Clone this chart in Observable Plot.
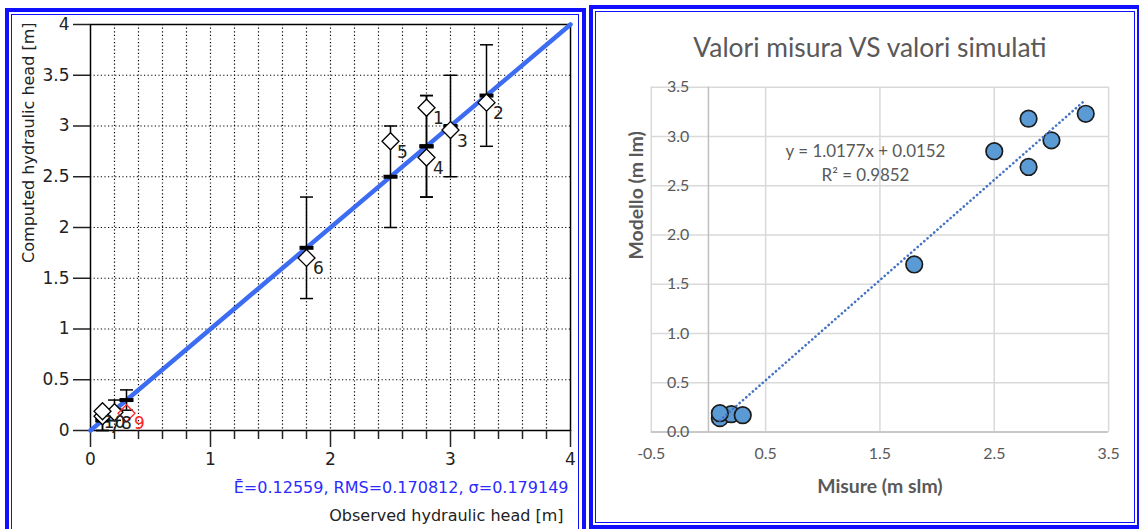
<!DOCTYPE html>
<html>
<head>
<meta charset="utf-8">
<script src="https://cdn.jsdelivr.net/npm/d3@7"></script>
<script src="https://cdn.jsdelivr.net/npm/@observablehq/plot@0.6"></script>
<style>
  html, body { margin: 0; padding: 0; background: #fff; }
  body { position: relative; width: 1139px; height: 529px; overflow: hidden; }
  .box { position: absolute; box-sizing: border-box; border-style: solid; border-color: #1010ff; }
  .chart { position: absolute; top: 0; }
  .chart svg { display: block; }
</style>
</head>
<body>
<!-- double blue frames around the two panels -->
<div class="box" style="left:5px; top:8px; width:581px; height:560px; border-width:4px;"></div>
<div class="box" style="left:11px; top:14px; width:568px; height:560px; border-width:1px;"></div>
<div class="box" style="left:589px; top:5px; width:552px; height:524px; border-width:4px;"></div>
<div class="box" style="left:595px; top:11px; width:540px; height:512px; border-width:1px;"></div>

<div id="left" class="chart" style="left:0px;"></div>
<div id="right" class="chart" style="left:589px;"></div>

<script>
// Observation wells: observed vs computed hydraulic head [m]
const wellIds    = [1, 2, 3, 4, 5, 6, 7, 8, 9, 10];
const observed   = [2.8, 3.3, 3.0, 2.8, 2.5, 1.8, 0.1, 0.2, 0.3, 0.1];
const computed   = [3.18, 3.23, 2.96, 2.69, 2.85, 1.70, 0.14, 0.18, 0.17, 0.19];
const tolerance  = [0.5, 0.5, 0.5, 0.5, 0.5, 0.5, 0.1, 0.1, 0.1, 0.1];
const selectedWell = 9;

// Calibration statistics printed under the scatter
const statsLabel = "Ē=0.12559, RMS=0.170812, σ=0.179149";

// Left panel ticks and grid
const xTicksLeft  = [0, 1, 2, 3, 4];
const xMinorLeft  = [0.2, 0.4, 0.6, 0.8, 1.2, 1.4, 1.6, 1.8, 2.2, 2.4, 2.6, 2.8, 3.2, 3.4, 3.6, 3.8];
const xGridLeft   = [0.2, 0.4, 0.6, 0.8, 1, 1.2, 1.4, 1.6, 1.8, 2, 2.2, 2.4, 2.6, 2.8, 3, 3.2, 3.4, 3.6, 3.8];
const yTicksLeft  = [0, 0.5, 1, 1.5, 2, 2.5, 3, 3.5, 4];
const perfectFit  = [0, 4];

// Right panel: linear trend fitted in the spreadsheet
const trendSlope = 1.0177;
const trendIntercept = 0.0152;
const trendR2 = 0.9852;
const xTicksRight = [-0.5, 0.5, 1.5, 2.5, 3.5];
const yTicksRight = [0, 0.5, 1, 1.5, 2, 2.5, 3, 3.5];

const chartTitle = "Valori misura VS valori simulati";
const xTitleRight = "Misure (m slm)";
const yTitleRight = "Modello (m lm)";
const xTitleLeft = "Observed hydraulic head [m]";
const yTitleLeft = "Computed hydraulic head [m]";

const rows = wellIds.map((id, i) => ({
  id, obs: observed[i], sim: computed[i], tol: tolerance[i]
}));
const plainRows = rows.filter(d => d.id !== selectedWell);
const selRows = rows.filter(d => d.id === selectedWell);

// fixed-size glyphs for the error bars and markers
const capGlyph = { draw(ctx) { ctx.moveTo(-6.5, 0); ctx.lineTo(6.5, 0); } };
const obsGlyph = { draw(ctx) { ctx.rect(-7, -2, 14, 4); } };
const diamondGlyph = { draw(ctx) {
  ctx.moveTo(0, -8.5); ctx.lineTo(8.5, 0); ctx.lineTo(0, 8.5); ctx.lineTo(-8.5, 0); ctx.closePath();
} };

const leftFont = "'DejaVu Sans', Verdana, sans-serif";
const ink = "#222";

const left = Plot.plot({
  width: 586,
  height: 529,
  marginLeft: 90,
  marginRight: 16,
  marginTop: 24,
  marginBottom: 99,
  x: { domain: [0, 4], label: null },
  y: { domain: [0, 4], label: null },
  style: { fontFamily: leftFont, fontSize: "16px", color: ink, background: "transparent", overflow: "visible" },
  marks: [
    Plot.gridX(xGridLeft, { stroke: "#000", strokeOpacity: 1, strokeWidth: 1.2, strokeDasharray: "1.2,2.4" }),
    Plot.gridY(yTicksLeft, { stroke: "#000", strokeOpacity: 1, strokeWidth: 1.2, strokeDasharray: "1.2,2.4" }),
    Plot.frame({ stroke: "#000", strokeWidth: 1.5 }),
    Plot.axisY(yTicksLeft, { tickSize: 17, tickPadding: 4, strokeWidth: 1.5, tickFormat: d => String(d), fontSize: 17, label: null }),
    Plot.axisX(xMinorLeft, { tickSize: 9, strokeWidth: 1.5, tickFormat: () => "", label: null }),
    Plot.axisX(xTicksLeft, { tickSize: 17, tickPadding: 5, strokeWidth: 1.5, tickFormat: d => String(d), fontSize: 17, label: null }),
    // 1:1 line
    Plot.line(perfectFit, { x: d => d, y: d => d, stroke: "#3c6cf2", strokeWidth: 4.5 }),
    // tolerance bars around the observed value
    Plot.ruleX(rows, { x: "obs", y1: d => d.obs - d.tol, y2: d => d.obs + d.tol, stroke: "#000", strokeWidth: 1.5 }),
    Plot.dot(rows, { x: "obs", y: d => d.obs - d.tol, symbol: capGlyph, r: 5, stroke: "#000", strokeWidth: 1.5 }),
    Plot.dot(rows, { x: "obs", y: d => d.obs + d.tol, symbol: capGlyph, r: 5, stroke: "#000", strokeWidth: 1.5 }),
    Plot.dot(rows, { x: "obs", y: "obs", symbol: obsGlyph, r: 5, fill: "#000", stroke: "none" }),
    // computed heads
    Plot.dot(plainRows, { x: "obs", y: "sim", symbol: diamondGlyph, r: 5, fill: "#fff", stroke: "#000", strokeWidth: 1.3 }),
    Plot.dot(selRows, { x: "obs", y: "sim", symbol: diamondGlyph, r: 5, fill: "none", stroke: "#ff2525", strokeWidth: 1.3 }),
    Plot.text(plainRows, { x: "obs", y: "sim", text: d => String(d.id), dx: 12, dy: 11, fontSize: 17, fill: ink }),
    Plot.text(selRows, { x: "obs", y: "sim", text: d => String(d.id), dx: 13, dy: 10, fontSize: 17, fill: "#ff2525" }),
    // statistics and axis titles
    Plot.text([statsLabel], { text: d => d, frameAnchor: "bottom-right", textAnchor: "end", lineAnchor: "middle", dx: -2, dy: 57, fontSize: 16, fill: "#2b2bff" }),
    Plot.text([xTitleLeft], { text: d => d, frameAnchor: "bottom-right", textAnchor: "end", lineAnchor: "middle", dx: -7, dy: 85, fontSize: 16, fill: ink }),
    Plot.text([yTitleLeft], { text: d => d, frameAnchor: "top-left", textAnchor: "end", lineAnchor: "middle", rotate: -90, dx: -62, dy: -2, fontSize: 16, fill: ink })
  ]
});
document.getElementById("left").appendChild(left);

// Right panel: same wells, spreadsheet-style scatter with trend line
const xMin = d3.min(observed), xMax = d3.max(observed);
const trend = [xMin, xMax].map(x => ({ x, y: trendSlope * x + trendIntercept }));
const eqLabel = `y = ${trendSlope}x + ${trendIntercept}`;
const r2Label = `R² = ${trendR2}`;
const gray = "#595959";
const rightFont = "Lato, 'Open Sans', sans-serif";

const right = Plot.plot({
  width: 552,
  height: 529,
  marginLeft: 62,
  marginRight: 31,
  marginTop: 87,
  marginBottom: 96,
  x: { domain: [-0.5, 3.5], label: null },
  y: { domain: [0, 3.5], label: null },
  style: { fontFamily: rightFont, fontSize: "15px", color: gray, background: "transparent", overflow: "visible" },
  marks: [
    Plot.gridX(xTicksRight, { stroke: "#d9d9d9", strokeOpacity: 1, strokeWidth: 1.5 }),
    Plot.gridY(yTicksRight, { stroke: "#d9d9d9", strokeOpacity: 1, strokeWidth: 1.5 }),
    Plot.ruleX([0], { stroke: "#bfbfbf", strokeWidth: 1.5 }),
    Plot.ruleY([0], { stroke: "#bfbfbf", strokeWidth: 1.5 }),
    Plot.axisY(yTicksRight, { anchor: "left", tickSize: 0, tickPadding: 0, dx: 38, tickFormat: d => d.toFixed(1), fontSize: 16, fill: gray, label: null }),
    Plot.axisX(xTicksRight, { tickSize: 0, tickPadding: 16, tickFormat: d => d.toFixed(1), fontSize: 16, fill: gray, label: null }),
    Plot.dot(rows, { x: "obs", y: "sim", r: 8.3, fill: "#5b9bd5", stroke: "#1c1c1c", strokeWidth: 1.7 }),
    Plot.line(trend, { x: "x", y: "y", stroke: "#4472c4", strokeWidth: 2.6, strokeDasharray: "0.1,4.3", strokeLinecap: "round" }),
    Plot.text([eqLabel], { text: d => d, frameAnchor: "top-left", textAnchor: "middle", lineAnchor: "middle", dx: 215, dy: 65, fontSize: 17, fill: gray }),
    Plot.text([r2Label], { text: d => d, frameAnchor: "top-left", textAnchor: "middle", lineAnchor: "middle", dx: 215, dy: 89, fontSize: 17, fill: gray }),
    Plot.text([chartTitle], { text: d => d, frameAnchor: "top", lineAnchor: "middle", dx: -10, dy: -39, fontSize: 26.5, fill: gray }),
    Plot.text([xTitleRight], { text: d => d, frameAnchor: "bottom", lineAnchor: "middle", dy: 55, fontSize: 19.5, fontWeight: "bold", fill: gray }),
    Plot.text([yTitleRight], { text: d => d, frameAnchor: "left", lineAnchor: "middle", rotate: -90, dx: -15, fontSize: 19.5, fontWeight: "bold", fill: gray })
  ]
});
document.getElementById("right").appendChild(right);
</script>
</body>
</html>
